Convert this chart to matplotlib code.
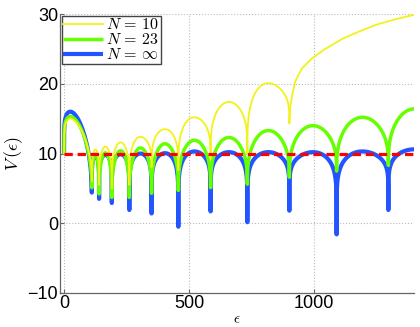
import numpy as np
import matplotlib
matplotlib.use("Agg")
import matplotlib.pyplot as plt

plt.rcParams['mathtext.fontset'] = 'cm'
plt.rcParams['font.family'] = ['Liberation Sans', 'DejaVu Sans']

# ---- data ----
eps_start = 0
eps_max = 1400
v_start = 10.0
cusps = [111, 140, 191, 261, 350, 457, 586, 733, 901, 1090, 1297]

blue_min = [4.4, 3.5, 2.9, 1.9, 1.4, -0.5, 1.7, 0.15, 1.8, -1.6, 1.9]
blue_peak = [16.0, 9.6, 9.8, 9.9, 10.0, 10.05, 10.3, 10.2, 10.2, 10.2, 10.3, 10.6]

green_min = [5.1, 4.2, 3.7, 3.7, 4.3, 4.7, 5.1, 5.6, 6.6, 7.5, 8.3]
green_peak = [15.3, 9.9, 10.1, 10.4, 10.8, 11.4, 11.9, 12.3, 13.3, 14.0, 15.2, 16.4]

yellow_cusps = [111, 140, 191, 261, 350, 457, 586, 733, 901]
yellow_min = [6.0, 5.5, 5.0, 5.5, 8.0, 7.6, 9.3, 10.0, 14.3]
yellow_peak = [15.0, 10.6, 11.0, 11.6, 12.4, 13.5, 15.2, 17.4, 20.1]
yellow_tail_eps = [901, 904, 911, 924, 951, 990, 1040, 1116, 1180, 1251, 1320, 1400]
yellow_tail_v = [14.3, 16.5, 18.1, 20.3, 22.2, 23.6, 24.9, 26.5, 27.5, 28.5, 29.2, 29.9]

reference_level = 10.0

labels = [r'$N\,=\,10$', r'$N\,=\,23$', r'$N\,=\,\infty$']


def arc(x0, x1, v0, v1, vp, p, warp=1.0, half=False):
    h = np.geomspace(1e-7, 0.5, 300)
    t = np.unique(np.concatenate([[0.0], h, 1 - h, [1.0]]))
    if half:
        t = t[t <= 0.5]
    tw = t ** warp
    s = np.clip(np.sin(np.pi * tw), 0, 1)
    base = v0 + (v1 - v0) * t
    v = base + (vp - base) * s ** p
    x = x0 + (x1 - x0) * t
    return x, v


def build(cus, mins, peaks, p, p_first, tail=True):
    edges = [eps_start] + list(cus)
    vals = [v_start] + list(mins)
    xs, vs = [], []
    for i in range(len(cus)):
        if i == 0:
            x, v = arc(edges[0], edges[1], vals[0], vals[1], peaks[0], p_first, warp=0.46)
        else:
            x, v = arc(edges[i], edges[i + 1], vals[i], vals[i + 1], peaks[i], p)
        xs.append(x); vs.append(v)
    if tail:
        x0 = cus[-1]
        x1 = x0 + 2 * (eps_max - x0)
        x, v = arc(x0, x1, mins[-1], mins[-1], peaks[-1], p, half=True)
        xs.append(x); vs.append(v)
    return np.concatenate(xs), np.concatenate(vs)


bx, bv = build(cusps, blue_min, blue_peak, 0.15, 0.45)
gx, gv = build(cusps, green_min, green_peak, 0.35, 0.45)
yx, yv = build(yellow_cusps, yellow_min, yellow_peak, 0.28, 0.45, tail=False)
yx = np.concatenate([yx, yellow_tail_eps])
yv = np.concatenate([yv, yellow_tail_v])

fig = plt.figure(figsize=(4.2, 3.27), dpi=100)
ax = fig.add_axes([0.143, 0.104, 0.843, 0.853])

c_yellow = '#f2f21a'
c_green = '#66ff00'
c_blue = '#2255ff'

lb, = ax.plot(bx, bv, color=c_blue, lw=3.0, solid_capstyle='butt', zorder=3)
lg, = ax.plot(gx, gv, color=c_green, lw=2.5, solid_capstyle='butt', zorder=4)
ly, = ax.plot(yx, yv, color=c_yellow, lw=1.3, zorder=5)
ax.plot([eps_start, eps_max], [reference_level, reference_level], color='#ff0000',
        lw=2.3, dashes=(2.6, 1.5), zorder=6)

ax.set_xlim(-16, 1400)
ax.set_ylim(-10, 30)
ax.set_xticks([0, 500, 1000])
ax.set_yticks([-10, 0, 10, 20, 30])
ax.grid(True, linestyle=':', color='#bbbbbb', lw=0.8)
for s in ['top', 'right']:
    ax.spines[s].set_visible(False)
for s in ['left', 'bottom']:
    ax.spines[s].set_color('#666666')
    ax.spines[s].set_linewidth(0.9)
ax.tick_params(direction='in', length=3, width=0.8, color='#666666',
               labelsize=13, pad=1.5)

ax.set_xlabel(r'$\epsilon$', fontsize=11, labelpad=0)
ax.set_ylabel(r'$V\,(\epsilon)$', fontsize=13, labelpad=0)
ax.yaxis.set_label_coords(-0.10, 0.5)

leg = ax.legend([ly, lg, lb], labels, loc='upper left', fontsize=11.5,
                frameon=True, fancybox=False, borderaxespad=0.1,
                borderpad=0.1, labelspacing=0.0, handlelength=2.5,
                handletextpad=0.2)
leg.get_frame().set_edgecolor('#444444')
leg.get_frame().set_linewidth(1.0)
leg.get_frame().set_alpha(1)

fig.savefig('out.png', dpi=100)
